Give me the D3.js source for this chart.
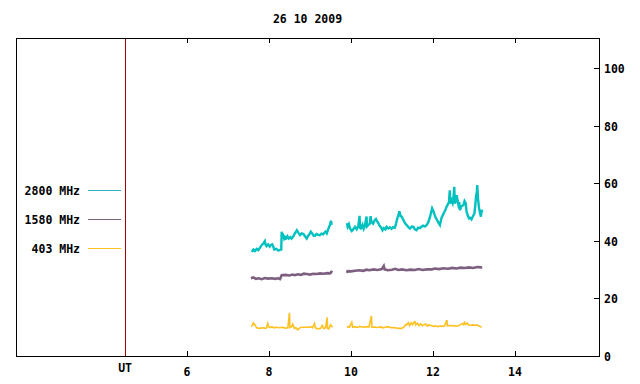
<!DOCTYPE html>
<html>
<head>
<meta charset="utf-8">
<script src="https://cdn.jsdelivr.net/npm/d3@7"></script>
<style>
    body { margin: 0; background: #fff; }
    text { font-family: "DejaVu Sans Mono", "Liberation Mono", monospace; font-weight: bold; font-size: 11.5px; fill: #000; }
</style>
</head>
<body>
<div id="chart"></div>
<script>
// Radio flux, 26 10 2009 - three frequencies vs UT hour
const title = "26 10 2009";
const xTicks = [6, 8, 10, 12, 14];
const yTicks = [0, 20, 40, 60, 80, 100];
const utMarker = 4.49;

// [hour, value], null = gap in the record
const mhz2800 = [
    [7.58,36.2],[7.62,37.0],[7.66,36.5],[7.70,37.2],[7.74,36.8],[7.78,37.6],[7.82,38.5],[7.86,39.0],[7.90,39.9],
    [7.92,38.6],[7.94,38.2],[7.98,38.8],[8.02,38.0],[8.05,38.6],[8.08,38.8],[8.10,38.2],[8.13,37.0],[8.18,37.2],
    [8.23,36.6],[8.27,36.9],[8.30,37.0],[8.31,43.2],[8.32,41.0],[8.35,41.8],[8.37,40.8],[8.39,41.4],[8.42,40.9],
    [8.45,41.6],[8.48,40.8],[8.52,41.3],[8.55,40.8],[8.59,41.5],[8.63,42.6],[8.66,43.2],[8.68,43.7],[8.72,42.8],
    [8.76,42.0],[8.80,42.6],[8.84,42.4],[8.88,41.6],[8.92,40.8],[8.96,41.8],[9.00,42.6],[9.02,43.2],[9.06,42.5],
    [9.09,41.8],[9.12,41.7],[9.16,42.4],[9.20,42.1],[9.24,42.0],[9.28,42.5],[9.32,42.3],[9.35,42.8],[9.38,43.2],
    [9.41,42.6],[9.44,43.8],[9.46,44.7],[9.49,45.6],[9.51,47.0],[9.53,46.0],[9.55,46.1],
    null,
    [9.90,46.1],[9.92,44.9],[9.95,45.8],[9.98,44.2],[10.02,43.4],[10.06,44.1],[10.10,44.9],[10.14,44.0],[10.18,45.2],
    [10.21,48.7],[10.22,44.5],[10.24,44.3],[10.28,45.6],[10.31,44.2],[10.34,45.4],[10.38,48.5],[10.39,45.0],[10.42,45.5],
    [10.46,46.0],[10.48,48.6],[10.50,46.6],[10.54,46.0],[10.58,47.2],[10.61,47.6],[10.64,46.8],[10.67,46.1],[10.70,45.2],
    [10.74,44.6],[10.77,43.7],[10.80,44.4],[10.84,44.0],[10.87,44.9],[10.91,44.3],[10.95,44.7],[10.99,44.2],[11.03,44.8],
    [11.07,44.6],[11.10,46.0],[11.13,47.8],[11.16,49.0],[11.18,50.3],[11.21,48.6],[11.24,48.4],[11.28,47.2],[11.32,46.1],
    [11.36,45.5],[11.40,44.8],[11.44,44.3],[11.48,44.9],[11.52,44.9],[11.56,44.0],[11.60,43.7],[11.64,44.6],[11.68,44.4],
    [11.72,44.9],[11.76,45.3],[11.80,45.0],[11.85,45.5],[11.89,46.6],[11.93,48.4],[11.96,50.2],[11.98,51.3],[12.01,50.4],
    [12.03,49.5],[12.06,48.3],[12.09,47.5],[12.13,46.4],[12.17,45.5],[12.19,46.8],[12.21,48.1],[12.25,49.2],[12.28,50.1],
    [12.31,51.0],[12.33,51.8],[12.36,52.6],[12.39,53.4],[12.41,57.6],[12.42,53.0],[12.45,54.2],[12.48,53.1],[12.50,55.0],
    [12.52,58.8],[12.53,54.0],[12.54,53.0],[12.56,54.5],[12.58,55.9],[12.60,54.0],[12.62,52.6],[12.64,53.5],[12.66,50.7],
    [12.69,51.9],[12.72,52.3],[12.74,52.4],[12.77,53.8],[12.80,53.0],[12.82,50.1],[12.85,48.8],[12.88,47.8],[12.91,48.0],
    [12.94,47.5],[12.97,48.4],[13.01,49.5],[13.03,52.0],[13.05,55.3],[13.07,57.0],[13.08,59.4],[13.10,54.6],[13.12,51.8],
    [13.14,50.2],[13.17,48.4],[13.19,50.8],[13.20,50.1]
];

const mhz1580 = [
    [7.56,27.0],[7.62,27.3],[7.68,26.8],[7.75,27.0],[7.82,26.7],[7.90,27.1],[7.98,26.9],[8.07,27.0],[8.15,26.8],
    [8.22,27.0],[8.27,26.7],[8.31,28.1],[8.40,28.2],[8.50,28.0],[8.58,28.3],[8.63,28.1],[8.70,28.4],[8.78,28.2],
    [8.85,28.6],[8.92,28.5],[9.00,28.3],[9.08,28.6],[9.16,28.5],[9.25,28.7],[9.33,28.6],[9.42,28.8],[9.49,28.7],
    [9.52,29.2],[9.55,29.0],
    null,
    [9.90,28.9],[9.92,29.5],[10.00,29.4],[10.10,29.6],[10.20,29.8],[10.30,29.6],[10.38,30.0],[10.45,29.8],[10.55,30.1],
    [10.65,29.9],[10.75,30.2],[10.80,31.3],[10.82,30.1],[10.90,29.8],[11.00,30.0],[11.08,30.3],[11.15,29.9],[11.25,30.1],
    [11.35,29.8],[11.45,30.0],[11.56,29.9],[11.65,30.2],[11.75,29.9],[11.85,30.1],[11.97,30.1],[12.05,30.4],[12.15,30.2],
    [12.25,30.5],[12.37,30.3],[12.47,30.6],[12.57,30.4],[12.68,30.7],[12.78,30.6],[12.88,30.8],[12.98,30.6],[13.08,30.9],
    [13.18,30.8],[13.20,30.9]
];

const mhz403 = [
    [7.56,10.4],[7.60,10.6],[7.62,11.5],[7.66,10.8],[7.70,9.8],[7.75,9.6],[7.80,9.7],[7.86,9.8],[7.92,9.6],
    [7.94,9.8],[7.97,11.3],[7.99,10.2],[8.03,9.9],[8.08,10.2],[8.12,9.8],[8.18,10.0],[8.25,9.8],[8.32,10.0],
    [8.40,9.7],[8.46,9.8],[8.50,15.0],[8.51,9.9],[8.55,10.1],[8.58,11.0],[8.62,9.6],[8.66,9.8],[8.70,9.1],
    [8.74,9.7],[8.80,10.0],[8.88,10.0],[8.96,10.0],[9.02,10.2],[9.06,9.8],[9.11,11.3],[9.13,9.8],[9.20,9.4],
    [9.26,9.6],[9.30,10.6],[9.34,9.5],[9.38,9.8],[9.42,13.4],[9.43,9.6],[9.46,9.4],[9.50,10.8],[9.53,10.4],[9.55,10.0],
    null,
    [9.90,10.2],[9.96,10.0],[10.02,11.7],[10.04,10.0],[10.10,10.2],[10.16,9.9],[10.22,10.3],[10.30,10.0],[10.38,10.2],
    [10.44,10.1],[10.50,13.9],[10.51,10.0],[10.58,10.1],[10.65,9.9],[10.72,10.1],[10.78,9.8],[10.83,10.0],[10.90,10.2],
    [10.98,9.8],[11.05,9.9],[11.12,9.7],[11.18,9.6],[11.24,9.6],[11.30,10.2],[11.34,11.0],[11.36,10.8],[11.40,11.6],
    [11.43,10.6],[11.47,11.5],[11.50,10.9],[11.53,11.7],[11.56,11.9],[11.58,10.8],[11.62,11.4],[11.66,10.6],[11.70,11.2],
    [11.74,10.5],[11.77,10.8],[11.82,11.1],[11.86,10.4],[11.90,10.8],[11.96,10.6],[12.02,10.3],[12.07,10.5],[12.12,10.2],
    [12.18,10.4],[12.22,10.3],[12.28,10.5],[12.34,12.5],[12.35,10.5],[12.42,10.6],[12.50,10.5],[12.56,10.4],[12.62,10.5],
    [12.67,10.9],[12.72,11.2],[12.75,10.9],[12.77,11.7],[12.80,11.0],[12.84,11.4],[12.87,10.8],[12.92,10.7],[12.98,10.8],
    [13.04,10.6],[13.07,10.8],[13.12,10.4],[13.16,10.2],[13.19,10.1]
];

const series = [
    { label: "2800 MHz", data: mhz2800, color: "#00c0c0", legendColor: "#30b4c4", width: 2.4 },
    { label: "1580 MHz", data: mhz1580, color: "#7e5f80", legendColor: "#7e5f80", width: 2.6 },
    { label: "403 MHz",  data: mhz403,  color: "#ffc020", legendColor: "#ffc020", width: 1.6 }
];

const W = 640, H = 384;
const frame = { left: 16, right: 599, top: 38, bottom: 356 };

const x = d3.scaleLinear().domain([1.83, 16.05]).range([frame.left, frame.right]);
const y = d3.scaleLinear().domain([0, 110.5]).range([frame.bottom, frame.top]);

const svg = d3.select("#chart").append("svg")
    .attr("width", W)
    .attr("height", H);

svg.append("text")
    .attr("x", (frame.left + frame.right) / 2)
    .attr("y", 23)
    .attr("text-anchor", "middle")
    .text(title);

// data lines
const line = d3.line()
    .defined(d => d !== null)
    .x(d => x(d[0]))
    .y(d => y(d[1]));

series.forEach(s => {
    svg.append("path")
        .datum(s.data)
        .attr("fill", "none")
        .attr("stroke", s.color)
        .attr("stroke-width", s.width)
        .attr("stroke-linejoin", "miter")
        .attr("d", line);
});

// UT marker
svg.append("line")
    .attr("x1", Math.round(x(utMarker)) + 0.5)
    .attr("x2", Math.round(x(utMarker)) + 0.5)
    .attr("y1", frame.top)
    .attr("y2", frame.bottom)
    .attr("stroke", "#a00000")
    .attr("stroke-width", 1);

svg.append("text")
    .attr("x", x(utMarker))
    .attr("y", 372)
    .attr("text-anchor", "middle")
    .text("UT");

// frame
svg.append("rect")
    .attr("x", frame.left + 0.5)
    .attr("y", frame.top + 0.5)
    .attr("width", frame.right - frame.left)
    .attr("height", frame.bottom - frame.top)
    .attr("fill", "none")
    .attr("stroke", "#000")
    .attr("stroke-width", 1);

// x ticks, bottom and top (mirrored)
xTicks.forEach(t => {
    const px = Math.round(x(t)) + 0.5;
    svg.append("line")
        .attr("x1", px).attr("x2", px)
        .attr("y1", frame.bottom).attr("y2", frame.bottom - 5)
        .attr("stroke", "#000");
    svg.append("line")
        .attr("x1", px).attr("x2", px)
        .attr("y1", frame.top).attr("y2", frame.top + 5)
        .attr("stroke", "#000");
    svg.append("text")
        .attr("x", x(t))
        .attr("y", 376)
        .attr("text-anchor", "middle")
        .text(t);
});

// right y axis
yTicks.forEach(t => {
    const py = Math.round(y(t)) + 0.5;
    svg.append("line")
        .attr("x1", frame.right - 5).attr("x2", frame.right)
        .attr("y1", py).attr("y2", py)
        .attr("stroke", "#000");
    svg.append("text")
        .attr("x", 604)
        .attr("y", y(t) + 5)
        .text(t);
});

// legend
series.forEach((s, i) => {
    const ly = 190 + i * 29;
    svg.append("text")
        .attr("x", 80)
        .attr("y", ly + 5)
        .attr("text-anchor", "end")
        .text(s.label);
    svg.append("line")
        .attr("x1", 88).attr("x2", 121)
        .attr("y1", ly + 0.5).attr("y2", ly + 0.5)
        .attr("stroke", s.legendColor)
        .attr("stroke-width", 1);
});
</script>
</body>
</html>
